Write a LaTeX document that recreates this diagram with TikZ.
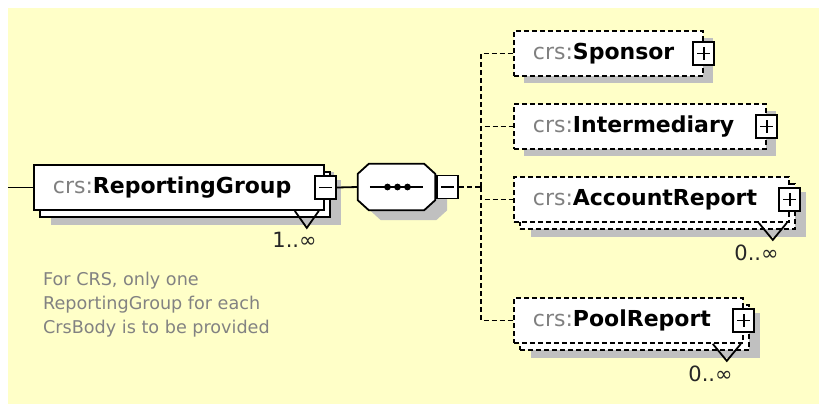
\documentclass[tikz,border=0pt]{standalone}
\usepackage{fontspec}
\setmainfont{DejaVu Sans}
\usetikzlibrary{shadows}

\definecolor{bg}{RGB}{255,255,200}
\definecolor{shadowgray}{RGB}{192,192,192}
\definecolor{prefix}{RGB}{128,128,128}
\definecolor{notegray}{RGB}{130,130,130}

\newcommand{\crsname}[1]{\textcolor{prefix}{crs:}\textbf{#1}}
\newcommand{\octa}[1]{([xshift=11pt]#1.north west) -- ([xshift=-11pt]#1.north east)
  -- ([yshift=-10pt]#1.north east) -- ([yshift=10pt]#1.south east)
  -- ([xshift=-11pt]#1.south east) -- ([xshift=11pt]#1.south west)
  -- ([yshift=10pt]#1.south west) -- ([yshift=-10pt]#1.north west) -- cycle}

\tikzset{
  elem/.style={draw, fill=white, line width=1.8pt, anchor=west, minimum height=45pt,
    inner xsep=19pt, inner ysep=2pt, align=left, font=\fontsize{22}{26}\selectfont},
  single/.style={general shadow={fill=shadowgray, shadow xshift=10pt, shadow yshift=-7pt}},
  multi/.style={general shadow={fill=shadowgray, shadow xshift=17pt, shadow yshift=-15pt},
    general shadow={fill=white, draw, shadow xshift=6pt, shadow yshift=-7pt}},
  opt/.style={dash pattern=on 5pt off 3pt},
  pmbox/.style={draw, fill=white, line width=1.8pt, minimum width=21pt, minimum height=23pt, inner sep=0pt},
  plusbox/.style={pmbox, path picture={
    \draw[line width=1.8pt] ([xshift=4pt]path picture bounding box.west) -- ([xshift=-4pt]path picture bounding box.east);
    \draw[line width=1.8pt] ([yshift=-5pt]path picture bounding box.north) -- ([yshift=5pt]path picture bounding box.south);}},
  minusbox/.style={pmbox, path picture={
    \draw[line width=1.8pt] ([xshift=4pt]path picture bounding box.west) -- ([xshift=-4pt]path picture bounding box.east);}},
  seqbox/.style={minimum width=77pt, minimum height=46pt, inner sep=0pt},
  chev/.style={line width=1.8pt},
  occ/.style={anchor=north east, inner sep=0pt, text=black!85, font=\fontsize{21}{25}\selectfont},
  note/.style={anchor=north west, inner sep=0pt, align=left, text=notegray, font=\fontsize{17.6}{24}\selectfont},
  link/.style={line width=1.8pt}
}

\begin{document}
\begin{tikzpicture}[x=1pt, y=-1pt]
  \useasboundingbox (0,0) rectangle (819,404);
  \fill[bg] (8,8) rectangle (819,404);

  % root element and sequence
  \coordinate (in) at (8,187.5);
  \node[elem, single, multi, text width=252pt] (rg) at (33,187.5) {\crsname{ReportingGroup}};
  \node[minusbox] (rgpm) at ([xshift=1pt]rg.east) {};
  \draw[chev] ([xshift=-30pt]rg.south east) -- ++(12,17) -- ++(12,-17);
  \node[occ] (rgocc) at ([xshift=-8pt, yshift=-21pt]rg.south east) {1..∞};
  \node[note] (rgnote) at (43,272) {For CRS, only one\\ReportingGroup for each\\CrsBody is to be provided};

  \node[seqbox] (seqsh) at (408.5,197) {};
  \node[seqbox] (seq) at (396.5,187) {};
  \fill[shadowgray] \octa{seqsh};
  \filldraw[fill=white, line width=1.8pt] \octa{seq};
  \draw[link] ([xshift=12pt]seq.west) -- ([xshift=-12pt]seq.east);
  \foreach \dx in {-9,1,11}
    \fill ([xshift=\dx pt]seq.center) circle (3.4pt);
  \node[minusbox, anchor=west] (seqpm) at ([xshift=1pt]seq.east) {};

  \draw[link] (in) -- (rg.west);
  \draw[link] (rgpm.east) -- (seq.west);

  % children
  \node[elem, opt, single, text width=151pt] (sponsor) at (513,53.5) {\crsname{Sponsor}};
  \node[elem, opt, single, text width=214pt] (inter) at (513,126.5) {\crsname{Intermediary}};
  \node[elem, opt, multi, text width=237pt] (acct) at (513,199.5) {\crsname{AccountReport}};
  \node[elem, opt, multi, text width=191pt] (pool) at (513,320.5) {\crsname{PoolReport}};
  \foreach \n in {sponsor,inter,acct,pool}
    \node[plusbox] (\n pm) at (\n.east) {};

  \foreach \n in {acct,pool} {
    \draw[chev] ([xshift=-31pt]\n.south east) -- ++(14,17) -- ++(14,-17);
    \node[occ] (\n occ) at ([xshift=-11pt, yshift=-22pt]\n.south east) {0..∞};
  }

  \coordinate (bus) at (481,187);
  \draw[link, opt] (seqpm.east) -- (bus);
  \foreach \n in {sponsor,inter,acct,pool}
    \draw[link, opt] (bus) |- (\n.west);
\end{tikzpicture}
\end{document}
